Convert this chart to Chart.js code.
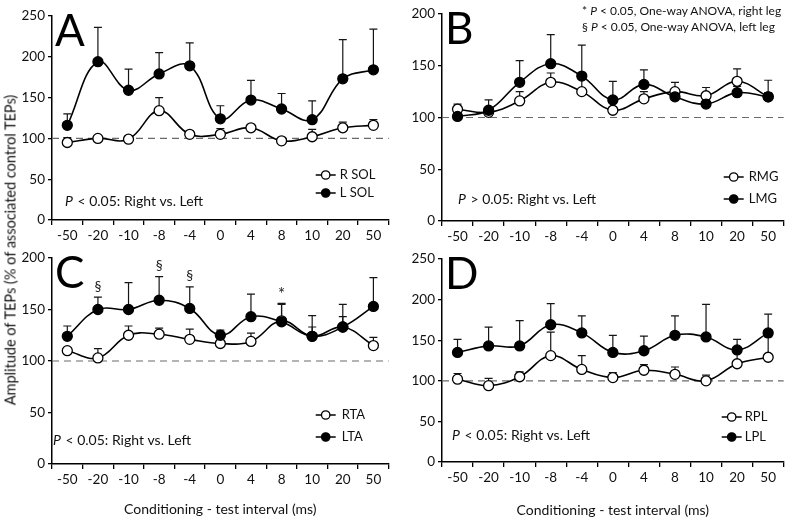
<!DOCTYPE html>
<html><head><meta charset="utf-8">
<script src="https://cdn.jsdelivr.net/npm/chart.js@4.4.1/dist/chart.umd.min.js"></script>
<style>
body{margin:0;background:#fff;width:790px;height:521px;position:relative;overflow:hidden;font-family:Lato,sans-serif;color:#111;}
canvas{position:absolute;}
#ytitle{position:absolute;left:10px;top:250px;transform:translate(-50%,-50%) rotate(-90deg);white-space:nowrap;font-size:14.5px;}
#note{position:absolute;left:582px;top:3px;font-size:12px;line-height:16px;white-space:nowrap;}
</style></head><body>
<canvas id="cA" width="395" height="262" style="left:0;top:0"></canvas>
<canvas id="cB" width="395" height="262" style="left:395px;top:0"></canvas>
<canvas id="cC" width="395" height="281" style="left:0;top:240px"></canvas>
<canvas id="cD" width="395" height="281" style="left:395px;top:240px"></canvas>
<div id="ytitle">Amplitude of TEPs (% of associated control TEPs)</div>
<div id="note">* <i>P</i> &lt; 0.05, One-way ANOVA, right leg<br>§ <i>P</i> &lt; 0.05, One-way ANOVA, left leg</div>
<script>
const cats = ['-50','-20','-10','-8','-4','0','4','8','10','20','50'];

// Panel A: soleus
const rSol    = [95,100,99,134,105,105,113,97,102,113,116];
const rSolSem = [6,3,4,16,1,7,3,1,9,7,7];
const lSol    = [116,194,159,179,189,124,147,136,123,173,184];
const lSolSem = [14,42,26,26,28,16,24,19,23,48,50];

// Panel B: medial gastrocnemius
const rMG    = [108,105,116,134,125,107,118,125,121,135,120];
const rMGSem = [5,2,9,9,12,3,7,9,8,12,4];
const lMG    = [101,107,134,152,140,117,132,120,113,124,120];
const lMGSem = [0,10,21,28,30,18,14,5,4,6,16];

// Panel C: tibialis anterior
const rTA    = [110,103,125,126,121,117,119,139,124,133,115];
const rTASem = [3,9,9,6,10,6,8,17,9,10,8];
const lTA    = [124,150,150,159,151,125,143,138,124,133,153];
const lTASem = [10,12,26,23,21,5,22,17,20,22,28];
const taLeftSig  = ['-20','-8','-4'];
const taRightSig = ['8'];

// Panel D: peroneus longus
const rPL    = [102,94,105,131,114,104,113,108,100,121,129];
const rPLSem = [7,9,6,29,17,6,7,9,7,18,25];
const lPL    = [135,143,143,169,159,135,137,156,154,138,159];
const lPLSem = [16,23,31,26,21,21,18,24,40,13,23];

const FONT = 'Lato';
const deco = {
  id:'deco',
  beforeDatasetsDraw(chart, args, o){
    const {ctx, chartArea:a, scales:{x,y}} = chart;
    ctx.save();
    ctx.strokeStyle='#6a6a6a'; ctx.lineWidth=1.2; ctx.setLineDash([7,5]);
    const y100 = y.getPixelForValue(100);
    ctx.beginPath(); ctx.moveTo(a.left, y100); ctx.lineTo(a.right, y100); ctx.stroke();
    ctx.setLineDash([]);
    ctx.strokeStyle='#151515'; ctx.lineWidth=1.2;
    chart.data.datasets.forEach(ds=>{
      ds.data.forEach((v,i)=>{
        const s = ds.sem[i]; if(!s) return;
        const px = x.getPixelForValue(i), y0 = y.getPixelForValue(v), y1 = y.getPixelForValue(v+s);
        ctx.beginPath(); ctx.moveTo(px,y0); ctx.lineTo(px,y1);
        ctx.moveTo(px-4,y1); ctx.lineTo(px+4,y1); ctx.stroke();
      });
    });
    ctx.restore();
  },
  afterDraw(chart, args, o){
    const {ctx, chartArea:a, scales:{x,y}} = chart;
    ctx.save();
    ctx.fillStyle='#000';
    ctx.font = '44px '+FONT; ctx.textBaseline='alphabetic'; ctx.textAlign='left';
    ctx.fillText(o.letter, a.left+3, a.top+30);
    ctx.fillStyle='#111';
    ctx.textBaseline='middle';
    ctx.font = 'italic 14px '+FONT;
    const px0 = a.left + o.pX, py0 = a.bottom - o.pY;
    ctx.fillText('P', px0, py0);
    const pw = ctx.measureText('P').width;
    ctx.font = '14px '+FONT;
    ctx.fillText(o.pText, px0+pw+1, py0);
    const ds = chart.data.datasets;
    [ds[0], ds[1]].forEach((d,k)=>{
      const ly = a.bottom - (k===0? o.lgY1 : o.lgY2);
      const lx = a.right - o.lgX;
      ctx.strokeStyle='#000'; ctx.lineWidth=1.5;
      ctx.beginPath(); ctx.moveTo(lx,ly); ctx.lineTo(lx+20,ly); ctx.stroke();
      ctx.beginPath(); ctx.arc(lx+10,ly,4.2,0,Math.PI*2);
      ctx.fillStyle = d.pointBackgroundColor; ctx.fill(); ctx.lineWidth=1.3; ctx.stroke();
      ctx.fillStyle='#111'; ctx.font='13px '+FONT;
      ctx.fillText(d.label, lx+o.lgT, ly);
    });
    (o.sig||[]).forEach(sg=>{
      const d = ds[sg.ds];
      sg.cats.forEach(c=>{
        const i = cats.indexOf(c);
        const yt = y.getPixelForValue(d.data[i]+d.sem[i]);
        ctx.fillStyle='#222'; ctx.font=(sg.sym==='*'?'17px ':'14px ')+FONT; ctx.textAlign='center';
        ctx.fillText(sg.sym, x.getPixelForValue(i), yt-(sg.sym==='*'?9:11));
      });
    });
    ctx.restore();
  }
};

function makeChart(id, c){
  const common = {borderColor:'#000', borderWidth:1.6, pointRadius:5, pointBorderColor:'#000', pointBorderWidth:1.3, tension:0.4, fill:false};
  new Chart(document.getElementById(id), {
    type:'line',
    data:{labels:cats, datasets:[
      Object.assign({label:c.openLabel, data:c.open, sem:c.openSem, pointBackgroundColor:'#fff', order:1}, common),
      Object.assign({label:c.fillLabel, data:c.filled, sem:c.filledSem, pointBackgroundColor:'#000', order:0}, common)
    ]},
    options:{
      responsive:false, animation:false, devicePixelRatio:1,
      layout:{padding:{top:c.top, right:c.right, left:0, bottom:0}},
      plugins:{legend:{display:false}, tooltip:{enabled:false}, deco:c.deco},
      scales:{
        x:{offset:true,
           grid:{offset:true, drawOnChartArea:false, tickLength:5, color:'#000', lineWidth:1.3},
           border:{color:'#000', width:1.5},
           ticks:{font:{family:FONT,size:13.5}, color:'#111', padding:3, maxRotation:0, autoSkip:false},
           title:{display:!!c.xtitle, text:'Conditioning - test interval (ms)', color:'#111', font:{family:FONT,size:14}, padding:{top:0,bottom:c.tpad||0}},
           afterFit(s){ s.height = c.xh; }},
        y:{min:0, max:c.ymax,
           ticks:{stepSize:50, font:{family:FONT,size:13.5}, color:'#111', padding:3},
           grid:{drawOnChartArea:false, tickLength:4, color:'#000', lineWidth:1.3},
           border:{color:'#000', width:1.5},
           afterFit(s){ s.width = c.yw; }}
      }
    },
    plugins:[deco]
  });
}

makeChart('cA', {openLabel:'R SOL', fillLabel:'L SOL', open:rSol, openSem:rSolSem, filled:lSol, filledSem:lSolSem,
  ymax:250, top:16, right:0, yw:52, xh:42,
  deco:{letter:'A', pText:' < 0.05: Right vs. Left', pX:13, pY:19, lgX:73, lgT:24, lgY1:45, lgY2:27}});
makeChart('cB', {openLabel:'RMG', fillLabel:'LMG', open:rMG, openSem:rMGSem, filled:lMG, filledSem:lMGSem,
  ymax:200, top:14, right:5, yw:47, xh:41,
  deco:{letter:'B', pText:' > 0.05: Right vs. Left', pX:16, pY:22, lgX:60, lgT:25, lgY1:44, lgY2:22}});
makeChart('cC', {openLabel:'RTA', fillLabel:'LTA', open:rTA, openSem:rTASem, filled:lTA, filledSem:lTASem,
  ymax:200, top:18, right:0, yw:52, xh:57, xtitle:true, tpad:3,
  deco:{letter:'C', pText:' < 0.05: Right vs. Left', pX:1, pY:24, lgX:73, lgT:26, lgY1:49, lgY2:27,
        sig:[{ds:1, cats:taLeftSig, sym:'§'},{ds:0, cats:taRightSig, sym:'*'}]}});
makeChart('cD', {openLabel:'RPL', fillLabel:'LPL', open:rPL, openSem:rPLSem, filled:lPL, filledSem:lPLSem,
  ymax:250, top:19, right:5, yw:47, xh:59, xtitle:true, tpad:2,
  deco:{letter:'D', pText:' < 0.05: Right vs. Left', pX:10, pY:27, lgX:62, lgT:23, lgY1:45, lgY2:25}});
</script>
</body></html>
